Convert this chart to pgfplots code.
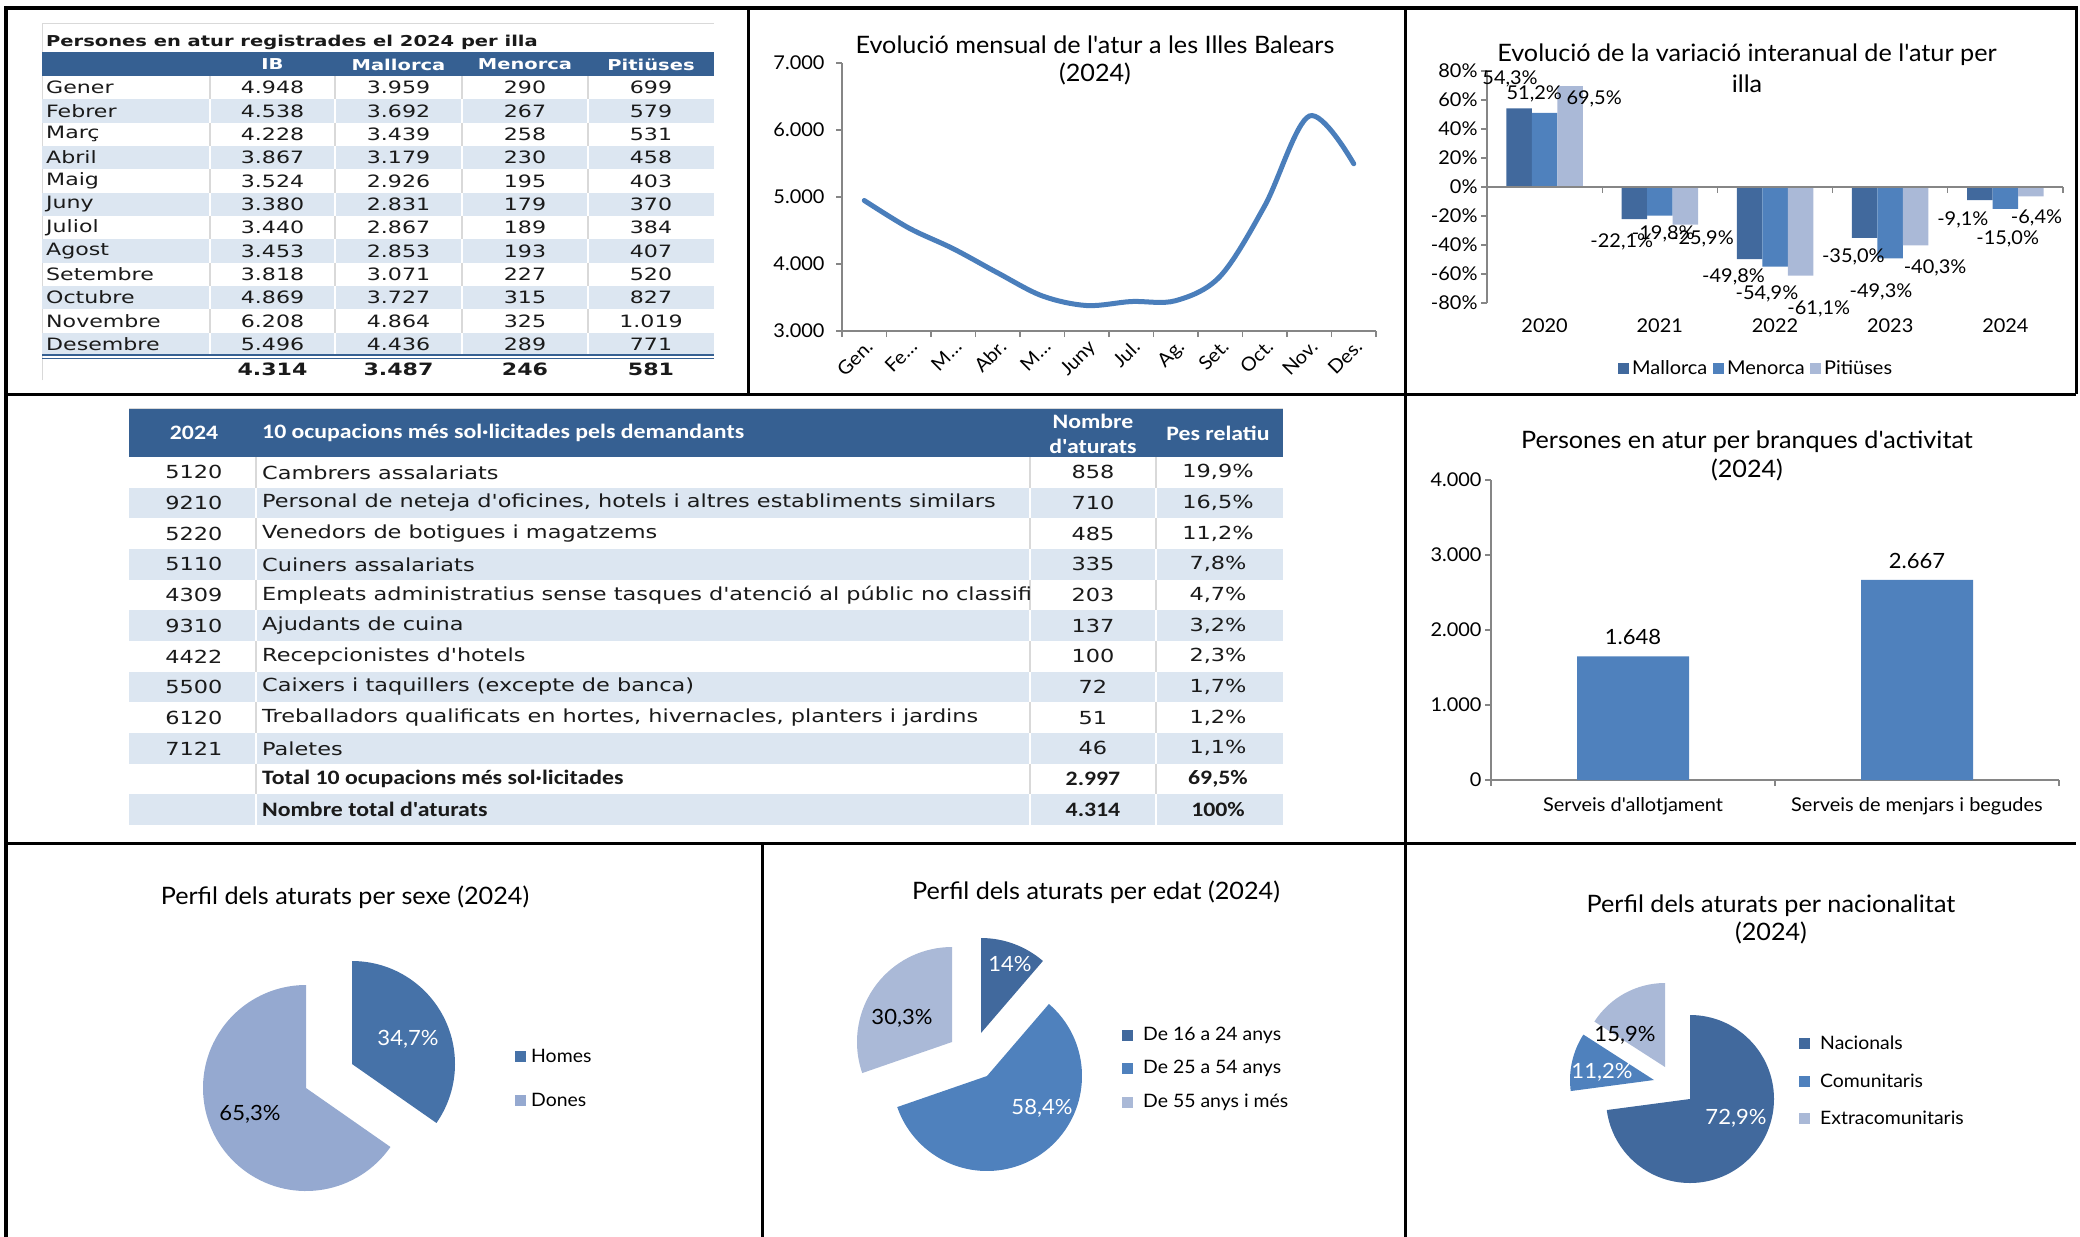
\documentclass[border=0pt]{standalone}
\usepackage{fontspec}
\usepackage{pgfplots}
\pgfplotsset{compat=1.18}
\setmainfont{Lato}
\newfontfamily\cf{Lato}[FakeStretch=1.05]
\newfontfamily\tf{DejaVu Sans}[FakeStretch=1.245]
\newfontfamily\tfa{DejaVu Sans}[FakeStretch=1.3]
\newfontfamily\hf{Carlito}[FakeStretch=1.16]
\newcommand\fs[1]{\fontsize{#1bp}{#1bp}\selectfont}
\definecolor{hdr}{HTML}{366092}
\definecolor{band}{HTML}{DCE6F1}
\definecolor{sepgray}{HTML}{D9D9D9}
\definecolor{c1}{HTML}{41699D}
\definecolor{c2}{HTML}{4F81BD}
\definecolor{c3}{HTML}{AAB9D7}
\definecolor{lineblue}{HTML}{4A7EBB}
\definecolor{axgray}{HTML}{868686}
\definecolor{homes}{HTML}{4672A8}
\definecolor{dones}{HTML}{95A9D0}
\definecolor{txt}{HTML}{1A1A1A}

% table 1 row: i, label, IB, Mallorca, Menorca, Pitiuses
\newcommand\rowA[6]{%
  \pgfmathsetmacro\yt{76+23.33*#1}%
  \pgfmathsetmacro\yc{\yt+11.67}%
  \ifodd#1 \fill[band] (42,\yt) rectangle (714,\yt+23.33);\def\sepc{white}\else\def\sepc{sepgray}\fi
  \foreach \xx in {210,335,462,588} \draw[\sepc, line width=1.5bp] (\xx,\yt) -- (\xx,\yt+23.33);
  \node[anchor=west, inner sep=0, font=\tfa\fs{17}, text=txt] at (46,\yc) {#2};
  \node[font=\tfa\fs{17}, text=txt] at (272.5,\yc) {#3};
  \node[font=\tfa\fs{17}, text=txt] at (398.5,\yc) {#4};
  \node[font=\tfa\fs{17}, text=txt] at (525,\yc) {#5};
  \node[font=\tfa\fs{17}, text=txt] at (651,\yc) {#6};
}
% table 2 row: i, code, desc, n, pct, font
\newcommand\rowB[6]{%
  \pgfmathsetmacro\yt{457+30.67*#1}%
  \pgfmathsetmacro\yc{\yt+15.33}%
  \ifodd#1 \fill[band] (129,\yt) rectangle (1283,\yt+30.67);\def\sepc{white}\else\def\sepc{sepgray}\fi
  \foreach \xx in {256,1030,1156} \draw[\sepc, line width=2bp] (\xx,\yt) -- (\xx,\yt+30.67);
  \node[font=#6, text=txt] at (194,\yc) {#2};
  \begin{scope}\clip (258,\yt) rectangle (1029,\yt+30.67);
  \node[anchor=west, inner sep=0, font=#6, text=txt] at (262,\yc) {#3};\end{scope}
  \node[font=#6, text=txt] at (1093,\yc) {#4};
  \node[font=#6, text=txt] at (1218,\yc) {#5};
}
% pie slice: cx, cy (px, downward), r, start %, value %, colour
\newcommand\slice[6]{%
  \pgfmathsetmacro\sa{90-3.6*#4}\pgfmathsetmacro\ea{90-3.6*(#4+#5)}%
  \fill[#6] (#1bp,-#2bp) -- ++(\sa:#3bp) arc[start angle=\sa, end angle=\ea, radius=#3bp] -- cycle;}

\begin{document}
\begin{tikzpicture}
\path[use as bounding box] (0,0) rectangle (2080bp,-1237bp);
\begin{scope}[x=1bp,y=-1bp]
% ---------- frame
\draw[black, line width=3bp] (6,1237) -- (6,8) -- (2076,8) -- (2076,394);
\draw[black, line width=3bp] (6,394) -- (2076,394);
\draw[black, line width=3bp] (6,843) -- (2076,843);
\draw[black, line width=3bp] (748,8) -- (748,394);
\draw[black, line width=3bp] (1405,8) -- (1405,1237);
\draw[black, line width=3bp] (762,843) -- (762,1237);

% ---------- table 1
\draw[sepgray, line width=1bp] (42,380) -- (42,23) -- (714,23);
\node[anchor=west, inner sep=0, font=\tfa\bfseries\fs{15}, text=txt] at (46,42) {Persones en atur registrades el 2024 per illa};
\fill[hdr] (42,52) rectangle (714,76);
\foreach \xx/\lab in {272.5/IB, 398.5/Mallorca, 525/Menorca, 651/Pitiüses}
  \node[font=\tfa\bfseries\fs{15}, text=white] at (\xx,64.5) {\lab};
\rowA{0}{Gener}{4.948}{3.959}{290}{699}
\rowA{1}{Febrer}{4.538}{3.692}{267}{579}
\rowA{2}{Març}{4.228}{3.439}{258}{531}
\rowA{3}{Abril}{3.867}{3.179}{230}{458}
\rowA{4}{Maig}{3.524}{2.926}{195}{403}
\rowA{5}{Juny}{3.380}{2.831}{179}{370}
\rowA{6}{Juliol}{3.440}{2.867}{189}{384}
\rowA{7}{Agost}{3.453}{2.853}{193}{407}
\rowA{8}{Setembre}{3.818}{3.071}{227}{520}
\rowA{9}{Octubre}{4.869}{3.727}{315}{827}
\rowA{10}{Novembre}{6.208}{4.864}{325}{1.019}
\rowA{11}{Desembre}{5.496}{4.436}{289}{771}
\draw[hdr, line width=1.2bp] (42,355) -- (714,355);
\draw[hdr, line width=1.2bp] (42,358.5) -- (714,358.5);
\foreach \xx/\lab in {272.5/4.314, 398.5/3.487, 525/246, 651/581}
  \node[font=\tfa\bfseries\fs{17}, text=txt] at (\xx,369) {\lab};

% ---------- table 2
\draw[sepgray, line width=1bp] (129,408) -- (1283,408);
\fill[hdr] (129,409) rectangle (1283,457);
\node[font=\hf\bfseries\fs{20.5}, text=white] at (194,433) {2024};
\node[anchor=west, inner sep=0, font=\hf\bfseries\fs{20.5}, text=white] at (262,433) {10 ocupacions més sol·licitades pels demandants};
\node[font=\hf\bfseries\fs{20.5}, text=white] at (1093,421) {Nombre};
\node[font=\hf\bfseries\fs{20.5}, text=white] at (1093,446) {d'aturats};
\node[font=\hf\bfseries\fs{20.5}, text=white] at (1218,433) {Pes relatiu};
\rowB{0}{5120}{Cambrers assalariats}{858}{19,9\%}{\tf\fs{18}}
\rowB{1}{9210}{Personal de neteja d'oficines, hotels i altres establiments similars}{710}{16,5\%}{\tf\fs{18}}
\rowB{2}{5220}{Venedors de botigues i magatzems}{485}{11,2\%}{\tf\fs{18}}
\rowB{3}{5110}{Cuiners assalariats}{335}{7,8\%}{\tf\fs{18}}
\rowB{4}{4309}{Empleats administratius sense tasques d'atenció al públic no classificats}{203}{4,7\%}{\tf\fs{18}}
\rowB{5}{9310}{Ajudants de cuina}{137}{3,2\%}{\tf\fs{18}}
\rowB{6}{4422}{Recepcionistes d'hotels}{100}{2,3\%}{\tf\fs{18}}
\rowB{7}{5500}{Caixers i taquillers (excepte de banca)}{72}{1,7\%}{\tf\fs{18}}
\rowB{8}{6120}{Treballadors qualificats en hortes, hivernacles, planters i jardins}{51}{1,2\%}{\tf\fs{18}}
\rowB{9}{7121}{Paletes}{46}{1,1\%}{\tf\fs{18}}
\rowB{10}{}{Total 10 ocupacions més sol·licitades}{2.997}{69,5\%}{\hf\bfseries\fs{20.5}}
\rowB{11}{}{Nombre total d'aturats}{4.314}{100\%}{\hf\bfseries\fs{20.5}}

% ---------- chart titles
\node[font=\cf\fs{24}] at (1095,45) {Evolució mensual de l'atur a les Illes Balears};
\node[font=\cf\fs{24}] at (1095,74) {(2024)};
\node[font=\cf\fs{24}] at (1747,55) {Evolució de la variació interanual de l'atur per};
\node[font=\cf\fs{24}] at (1747,84) {illa};
\node[font=\cf\fs{24}] at (1747,442) {Persones en atur per branques d'activitat};
\node[font=\cf\fs{24}] at (1747,470) {(2024)};
\node[font=\cf\fs{24}] at (345,897) {Perfil dels aturats per sexe (2024)};
\node[font=\cf\fs{24}] at (1096,892) {Perfil dels aturats per edat (2024)};
\node[font=\cf\fs{24}] at (1771,906) {Perfil dels aturats per nacionalitat};
\node[font=\cf\fs{24}] at (1771,933) {(2024)};

% ---------- legends
\fill[c1] (1618,362.5) rectangle (1629,373.5);
\node[anchor=west, inner sep=0, font=\cf\fs{19}] at (1632,368) {Mallorca};
\fill[c2] (1713,362.5) rectangle (1724,373.5);
\node[anchor=west, inner sep=0, font=\cf\fs{19}] at (1727,368) {Menorca};
\fill[c3] (1810,362.5) rectangle (1821,373.5);
\node[anchor=west, inner sep=0, font=\cf\fs{19}] at (1824,368) {Pitiüses};

\fill[homes] (515,1050.5) rectangle (526,1061.5);
\node[anchor=west, inner sep=0, font=\cf\fs{18.5}] at (531,1056) {Homes};
\fill[dones] (515,1094.5) rectangle (526,1105.5);
\node[anchor=west, inner sep=0, font=\cf\fs{18.5}] at (531,1100) {Dones};

\fill[c1] (1122,1029.5) rectangle (1133,1040.5);
\node[anchor=west, inner sep=0, font=\cf\fs{18.5}] at (1143,1035) {De 16 a 24 anys};
\fill[c2] (1122,1062.5) rectangle (1133,1073.5);
\node[anchor=west, inner sep=0, font=\cf\fs{18.5}] at (1143,1068) {De 25 a 54 anys};
\fill[c3] (1122,1096.5) rectangle (1133,1107.5);
\node[anchor=west, inner sep=0, font=\cf\fs{18.5}] at (1143,1102) {De 55 anys i més};

\fill[c1] (1799,1037.5) rectangle (1810,1048.5);
\node[anchor=west, inner sep=0, font=\cf\fs{18.5}] at (1820,1043) {Nacionals};
\fill[c2] (1799,1075.5) rectangle (1810,1086.5);
\node[anchor=west, inner sep=0, font=\cf\fs{18.5}] at (1820,1081) {Comunitaris};
\fill[c3] (1799,1112.5) rectangle (1810,1123.5);
\node[anchor=west, inner sep=0, font=\cf\fs{18.5}] at (1820,1118) {Extracomunitaris};
\end{scope}

% ---------- pies
\slice{352}{1064}{103}{0}{34.7}{homes}
\slice{306}{1088}{103}{34.7}{65.3}{dones}
\slice{981}{1033}{95}{0}{11.3}{c1}
\slice{987}{1076}{95}{11.3}{58.4}{c2}
\slice{952}{1042}{95}{69.7}{30.3}{c3}
\slice{1690}{1099}{84}{0}{72.9}{c1}
\slice{1654}{1080}{84}{72.9}{11.2}{c2}
\slice{1665}{1067}{84}{84.1}{15.9}{c3}
\begin{scope}[x=1bp,y=-1bp]
\node[font=\cf\fs{21}, text=white] at (408,1039) {34,7\%};
\node[font=\cf\fs{21}] at (250,1114) {65,3\%};
\node[font=\cf\fs{21}, text=white] at (1010,964) {14\%};
\node[font=\cf\fs{21}, text=white] at (1042,1108) {58,4\%};
\node[font=\cf\fs{21}] at (902,1018) {30,3\%};
\node[font=\cf\fs{21}, text=white] at (1736,1118) {72,9\%};
\node[font=\cf\fs{21}, text=white] at (1602,1072) {11,2\%};
\node[font=\cf\fs{21}] at (1625,1035) {15,9\%};
\end{scope}

% ---------- line chart
\begin{axis}[at={(842bp,-331bp)}, anchor=south west, scale only axis,
  width=534bp, height=268bp, enlargelimits=false,
  xmin=0.5, xmax=12.5, ymin=3000, ymax=7000,
  axis x line*=bottom, axis y line*=left,
  axis line style={axgray, line width=1.2bp},
  tick style={axgray, line width=1.2bp},
  tick align=outside, major tick length=6bp, minor tick length=6bp,
  xtick={1,...,12},
  xticklabels={Gen.,Fe…,M…,Abr.,M…,Juny,Jul.,Ag.,Set.,Oct.,Nov.,Des.},
  major x tick style={draw=none},
  minor xtick={0.5,1.5,...,12.5},
  ytick={3000,4000,...,7000}, scaled y ticks=false,
  /pgf/number format/1000 sep={.},
  /pgf/number format/assume math mode=true,
  ticklabel style={font=\cf\fs{19}, text=black},
  yticklabel style={xshift=-8bp},
  xticklabel style={rotate=45, anchor=north east, inner sep=1bp},
  clip=false]
\addplot[lineblue, line width=5bp, smooth, tension=0.55, line cap=round]
  coordinates {(1,4948) (2,4538) (3,4228) (4,3867) (5,3524) (6,3380)
               (7,3440) (8,3453) (9,3818) (10,4869) (11,6208) (12,5496)};
\end{axis}

% ---------- grouped bar chart
\begin{axis}[at={(1487bp,-303bp)}, anchor=south west, scale only axis,
  width=576bp, height=232bp, enlargelimits=false,
  xmin=-0.5, xmax=4.5, ymin=-80, ymax=80,
  ybar=0pt, bar width=25.5bp,
  axis x line*=bottom, axis y line*=left,
  x axis line style={draw=none}, y axis line style={axgray, line width=1.2bp},
  tick style={axgray, line width=1.2bp}, tick align=outside, major tick length=6bp,
  xtick={0,...,4}, xticklabels={2020,2021,2022,2023,2024},
  major x tick style={draw=none},
  ytick={-80,-60,...,80}, yticklabel={\pgfmathprintnumber{\tick}\%},
  /pgf/number format/assume math mode=true,
  ticklabel style={font=\cf\fs{19}, text=black},
  xticklabel style={yshift=-6bp},
  clip=false]
\addplot[fill=c1, draw=none] coordinates {(0,54.3) (1,-22.1) (2,-49.8) (3,-35.0) (4,-9.1)};
\addplot[fill=c2, draw=none] coordinates {(0,51.2) (1,-19.8) (2,-54.9) (3,-49.3) (4,-15.0)};
\addplot[fill=c3, draw=none] coordinates {(0,69.5) (1,-25.9) (2,-61.1) (3,-40.3) (4,-6.4)};
\draw[axgray, line width=1.2bp] (axis cs:-0.5,0) -- (axis cs:4.5,0);
\draw[axgray, line width=1.2bp] (axis cs:0.5,0) -- ++(0bp,-6bp);
\draw[axgray, line width=1.2bp] (axis cs:1.5,0) -- ++(0bp,-6bp);
\draw[axgray, line width=1.2bp] (axis cs:2.5,0) -- ++(0bp,-6bp);
\draw[axgray, line width=1.2bp] (axis cs:3.5,0) -- ++(0bp,-6bp);
\draw[axgray, line width=1.2bp] (axis cs:4.5,0) -- ++(0bp,-6bp);
\node[font=\cf\fs{19}] at (axis cs:-0.30,74.5) {54,3\%};
\node[font=\cf\fs{19}] at (axis cs:-0.09,64) {51,2\%};
\node[font=\cf\fs{19}] at (axis cs:0.43,61) {69,5\%};
\node[font=\cf\fs{19}] at (axis cs:0.67,-38) {-22,1\%};
\node[font=\cf\fs{19}] at (axis cs:1.03,-32) {-19,8\%};
\node[font=\cf\fs{19}] at (axis cs:1.37,-36) {-25,9\%};
\node[font=\cf\fs{19}] at (axis cs:1.64,-62) {-49,8\%};
\node[font=\cf\fs{19}] at (axis cs:1.93,-74) {-54,9\%};
\node[font=\cf\fs{19}] at (axis cs:2.38,-84) {-61,1\%};
\node[font=\cf\fs{19}] at (axis cs:2.68,-48) {-35,0\%};
\node[font=\cf\fs{19}] at (axis cs:2.92,-72) {-49,3\%};
\node[font=\cf\fs{19}] at (axis cs:3.39,-56) {-40,3\%};
\node[font=\cf\fs{19}] at (axis cs:3.63,-23) {-9,1\%};
\node[font=\cf\fs{19}] at (axis cs:4.02,-36) {-15,0\%};
\node[font=\cf\fs{19}] at (axis cs:4.27,-21) {-6,4\%};
\end{axis}

% ---------- activity bar chart
\begin{axis}[at={(1491bp,-780bp)}, anchor=south west, scale only axis,
  width=568bp, height=300bp, enlargelimits=false,
  xmin=-0.5, xmax=1.5, ymin=0, ymax=4000,
  ybar, bar width=112bp,
  axis x line*=bottom, axis y line*=left,
  axis line style={axgray, line width=1.2bp},
  tick style={axgray, line width=1.2bp}, tick align=outside,
  major tick length=6bp, minor tick length=6bp,
  xtick={0,1}, xticklabels={Serveis d'allotjament,Serveis de menjars i begudes},
  major x tick style={draw=none}, minor xtick={-0.5,0.5,1.5},
  ytick={0,1000,...,4000}, scaled y ticks=false,
  /pgf/number format/1000 sep={.},
  /pgf/number format/assume math mode=true,
  ticklabel style={font=\cf\fs{19}, text=black},
  xticklabel style={yshift=-8bp},
  nodes near coords,
  every node near coord/.append style={font=\cf\fs{21}, text=black, yshift=8bp},
  clip=false]
\addplot[fill=c2, draw=none] coordinates {(0,1648) (1,2667)};
\end{axis}
\end{tikzpicture}
\end{document}
